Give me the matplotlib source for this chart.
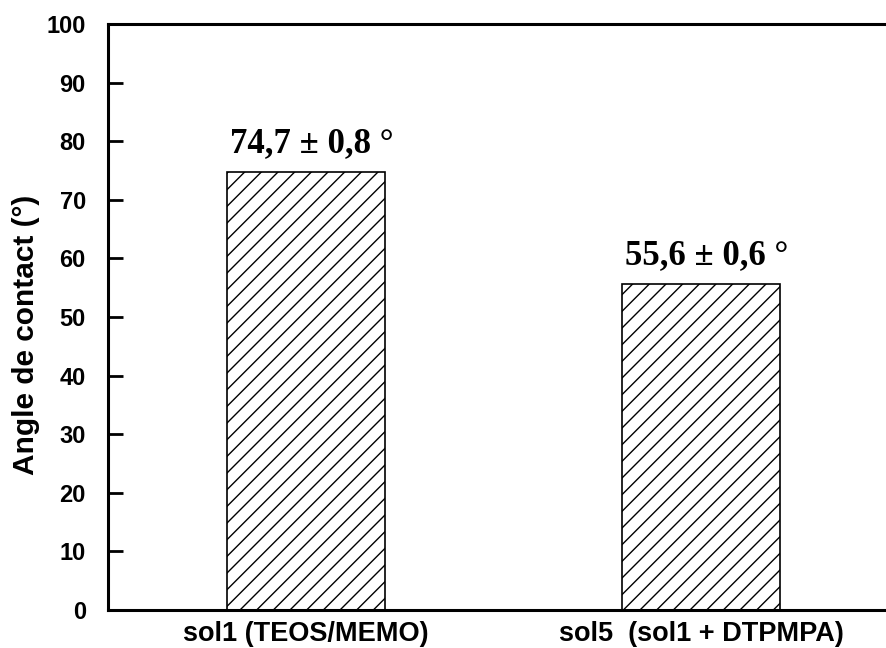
import numpy as np
import matplotlib.pyplot as plt

categories = ['sol1 (TEOS/MEMO)', 'sol5  (sol1 + DTPMPA)']
angles = [74.7, 55.6]
errors = [0.8, 0.6]
yticks = [0, 10, 20, 30, 40, 50, 60, 70, 80, 90, 100]

plt.rcParams['hatch.linewidth'] = 1.0

fig = plt.figure(figsize=(8.86, 6.48), dpi=100)
ax = fig.add_axes([108 / 886, 1 - 610 / 648, 1 - 108 / 886, (610 - 24) / 648])

x = np.arange(len(categories))
ax.bar(x, angles, width=0.4, color='white', edgecolor='black',
       hatch='//', linewidth=1.2, zorder=2)

for xi, a, e in zip(x, angles, errors):
    ax.text(xi + 0.015, a + 3.4, f"{str(a).replace('.', ',')} ± {str(e).replace('.', ',')} °",
            ha='center', va='baseline', fontsize=25, fontweight='bold',
            family='Liberation Serif')

ax.set_xlim(-0.5, 1.468)
ax.set_ylim(0, 100)
ax.set_yticks(yticks)
ax.set_xticks(x)
ax.set_xticklabels(categories)
ax.set_ylabel('Angle de contact (°)', fontsize=21.5, fontweight='bold',
              family='Liberation Sans')
ax.yaxis.set_label_coords(-0.088, 0.47)

for lbl in ax.get_yticklabels():
    lbl.set_fontsize(17)
    lbl.set_fontweight('bold')
    lbl.set_family('Liberation Sans')
for lbl in ax.get_xticklabels():
    lbl.set_fontsize(19.5)
    lbl.set_fontweight('bold')
    lbl.set_family('Liberation Sans')

ax.tick_params(axis='y', direction='in', length=11, width=2, pad=16)
ax.tick_params(axis='x', length=0, pad=8)

ax.spines['right'].set_visible(False)
for s in ['left', 'top', 'bottom']:
    ax.spines[s].set_linewidth(2.2)

fig.savefig('out.png', dpi=100)
